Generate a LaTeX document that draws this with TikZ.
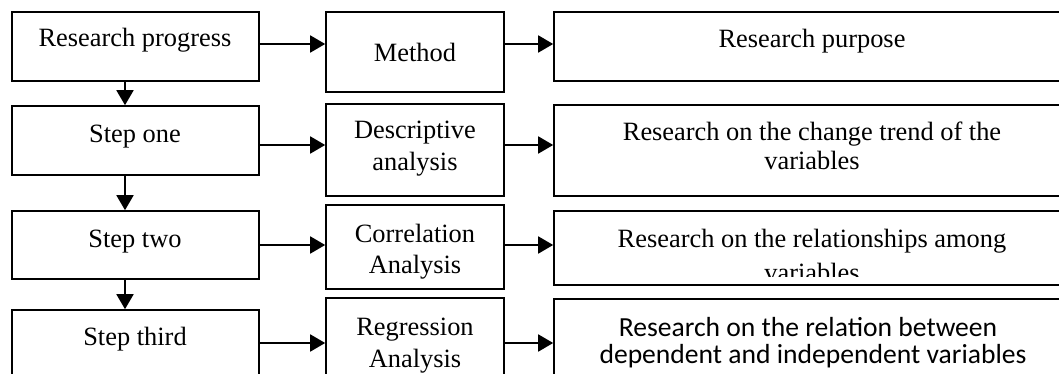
\documentclass[tikz,border=0pt]{standalone}
\usepackage{fontspec}
\setmainfont{Liberation Serif}
\newfontfamily\calfont{Carlito}
\usetikzlibrary{arrows.meta}
\begin{document}
\begin{tikzpicture}[x=1pt,y=-1pt,
  box/.style={draw=black,line width=1.6pt,rectangle,inner sep=0pt},
  txt/.style={anchor=base,inner sep=0pt,font=\fontsize{26.4}{30}\selectfont},
  stxt/.style={anchor=base,inner sep=0pt,font=\calfont\fontsize{27.6}{31}\selectfont},
  arr/.style={line width=1.8pt,-{Triangle[length=15pt,width=17pt]}}]
\clip (0,0) rectangle (1059,374);
% frames, drawn from corner to corner
\newcommand\frameat[5]{\node[box,minimum width=#4-#2,minimum height=#5-#3] (#1) at ({(#2+#4)/2},{(#3+#5)/2}) {};}
\frameat{L1}{12}{12}{259}{81}
\frameat{L2}{12}{106}{259}{175}
\frameat{L3}{12}{211}{259}{279}
\frameat{L4}{12}{310}{259}{390}
\frameat{M1}{326}{12}{504}{92}
\frameat{M2}{326}{104}{504}{196}
\frameat{M3}{326}{205}{504}{289}
\frameat{M4}{326}{298}{504}{390}
\frameat{R1}{554}{12}{1070}{81}
\frameat{R2}{554}{105}{1070}{196}
\frameat{R3}{554}{211}{1070}{285}
\frameat{R4}{554}{299}{1070}{390}
% texts
\node[txt] (tL1) at (135,47) {Research progress};
\node[txt] (tL2) at (135,143) {Step one};
\node[txt] (tL3) at (135,247) {Step two};
\node[txt] (tL4) at (135,345) {Step third};
\node[txt] (tM1) at (415,62) {Method};
\node[txt] (tM2a) at (415,139) {Descriptive};
\node[txt] (tM2b) at (415,171) {analysis};
\node[txt] (tM3a) at (415,242) {Correlation};
\node[txt] (tM3b) at (415,273) {Analysis};
\node[txt] (tM4a) at (415,335) {Regression};
\node[txt] (tM4b) at (415,367) {Analysis};
\node[txt] (tR1) at (812,48) {Research purpose};
\node[txt] (tR2a) at (812,141) {Research on the change trend of the};
\node[txt] (tR2b) at (812,170) {variables};
\node[txt] (tR3a) at (812,247) {Research on the relationships among};
\begin{scope}
  \clip (554,211) rectangle (1070,276);
  \node[txt] (tR3b) at (812,281) {variables};
\end{scope}
\node[stxt] (tR4a) at (808,336) {Research on the relation between};
\node[stxt] (tR4b) at (813,363) {dependent and independent variables};
% row levels of the horizontal arrows
\coordinate (y1) at (0,44);
\coordinate (y2) at (0,145);
\coordinate (y3) at (0,245);
\coordinate (y4) at (0,343);
\foreach \k in {1,2,3,4}{
  \draw[arr] (L\k.east |- y\k) -- (M\k.west |- y\k);
  \draw[arr] (M\k.east |- y\k) -- (R\k.west |- y\k);
}
% downward arrows between the steps
\coordinate (vx) at (125,0);
\draw[arr] (L1.south -| vx) -- (L2.north -| vx);
\draw[arr] (L2.south -| vx) -- (L3.north -| vx);
\draw[arr] (L3.south -| vx) -- (L4.north -| vx);
\end{tikzpicture}
\end{document}
